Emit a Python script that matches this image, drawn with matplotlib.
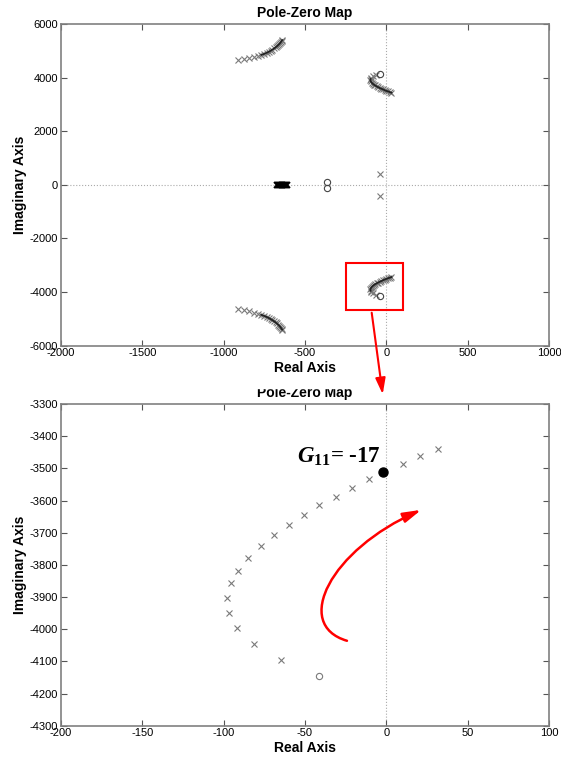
import numpy as np
import matplotlib
matplotlib.use("Agg")
import matplotlib.pyplot as plt
from matplotlib.patches import Rectangle, FancyArrowPatch
from matplotlib.path import Path

plt.rcParams['font.family'] = ['Liberation Sans', 'DejaVu Sans']
plt.rcParams['axes.unicode_minus'] = False
plt.rcParams['mathtext.fontset'] = 'custom'
plt.rcParams['mathtext.it'] = 'Liberation Serif:italic:bold'
plt.rcParams['mathtext.rm'] = 'Liberation Serif:bold'

# lower right branch of poles (the zoomed one); the upper one is its conjugate
branch_re = np.array([-64.5, -81.3, -91.8, -96.9, -97.9, -95.3, -91.0, -84.8, -77.3, -69.2,
                      -60.0, -50.4, -41.2, -30.7, -20.9, -10.4, 10.4, 20.9, 31.5])
branch_im = np.array([-4097, -4047, -3997, -3949, -3902, -3857, -3818, -3779, -3741, -3708,
                      -3675, -3644, -3615, -3588, -3561, -3533, -3486, -3462, -3440])
branch_zero_re = -41.4
branch_zero_im = -4145
g11_re = -1.8
g11_im = -3511

# upper left branch of poles, the lower one is its conjugate
left_re = np.array([-910, -875, -845, -815, -790, -768, -750, -735, -722, -710,
                    -700, -690, -681, -673, -666, -659, -653, -648, -644, -640])
left_im = np.array([4640, 4680, 4720, 4765, 4805, 4850, 4890, 4930, 4970, 5010,
                    5050, 5090, 5130, 5170, 5210, 5250, 5290, 5330, 5370, 5400])

# poles clustered on the real axis
cluster_re = np.array([-670, -664, -658, -652, -646, -640, -634, -628, -622, -616, -612])
cluster_im = np.zeros(len(cluster_re))

# other poles and zeros
pole_pair_re = np.array([-38, -38])
pole_pair_im = np.array([410, -410])
zero_pair_re = np.array([-367, -367])
zero_pair_im = np.array([105, -105])

top_xticks = [-2000, -1500, -1000, -500, 0, 500, 1000]
top_yticks = [-6000, -4000, -2000, 0, 2000, 4000, 6000]
zoom_xticks = [-200, -150, -100, -50, 0, 50, 100]
zoom_yticks = [-4300, -4200, -4100, -4000, -3900, -3800, -3700, -3600, -3500, -3400, -3300]

gray = '#7a7a7a'
frame = '#808080'


def style_axes(ax, xticks, yticks):
    ax.set_xticks(xticks)
    ax.set_yticks(yticks)
    ax.set_xlim(xticks[0], xticks[-1])
    ax.set_ylim(yticks[0], yticks[-1])
    ax.tick_params(direction='in', length=4, width=0.8, colors='#555555', labelcolor='black',
                   labelsize=8, top=True, right=True, pad=2)
    for s in ax.spines.values():
        s.set_color(frame)
        s.set_linewidth(1.2)
    ax.set_xlabel('Real Axis', fontsize=10, fontweight='bold', labelpad=2)
    ax.set_ylabel('Imaginary Axis', fontsize=10, fontweight='bold', labelpad=2)
    ax.set_title('Pole-Zero Map', fontsize=10, fontweight='bold', pad=5)


fig = plt.figure(figsize=(5.61, 7.63), dpi=100)
ax1 = fig.add_axes([0.1087, 0.5469, 0.8699, 0.4216])
ax2 = fig.add_axes([0.1087, 0.0489, 0.8699, 0.4216])

# ---- top: full map
ax1.axhline(0, color='#aaaaaa', ls=':', lw=0.8, zorder=0)
ax1.axvline(0, color='#aaaaaa', ls=':', lw=0.8, zorder=0)

all_re = np.concatenate([branch_re, [g11_re]])
all_im = np.concatenate([branch_im, [g11_im]])
order = np.argsort(all_im)[::-1]
for sign in (1, -1):
    ax1.plot(left_re, sign * left_im, 'x', color=gray, ms=4, mew=0.8)
    ax1.plot(left_re[5:], sign * left_im[5:], '-', color='#222222', lw=1.3)
    ax1.plot(all_re, sign * all_im, 'x', color=gray, ms=4, mew=0.8)
    ax1.plot(all_re[order][:-3], sign * all_im[order][:-3], '-', color='#222222', lw=1.3)
    ax1.plot(branch_zero_re, sign * branch_zero_im, 'o', mfc='none', mec='#444444', ms=4.5, mew=0.8)
ax1.plot(cluster_re, cluster_im, 'x', color='black', ms=4.5, mew=1.4)
ax1.plot(pole_pair_re, pole_pair_im, 'x', color=gray, ms=4, mew=0.8)
ax1.plot(zero_pair_re, zero_pair_im, 'o', mfc='none', mec='#444444', ms=4.5, mew=0.8)

ax1.add_patch(Rectangle((-246, -4685), 350, 1767, fill=False, ec='red', lw=1.5, clip_on=False))
style_axes(ax1, top_xticks, top_yticks)

# ---- bottom: zoom on the lower right branch
ax2.axvline(0, color='#aaaaaa', ls=':', lw=0.8, zorder=0)
ax2.plot(branch_re, branch_im, 'x', color=gray, ms=4, mew=0.8)
ax2.plot(branch_zero_re, branch_zero_im, 'o', mfc='none', mec=gray, ms=4.5, mew=0.8)
ax2.plot(g11_re, g11_im, 'o', color='black', ms=6.5)
ax2.text(-54.9, -3484, r'$G_{\mathit{11}}$= -17', family='Liberation Serif', fontweight='bold',
         fontsize=16.5, ha='left', va='baseline')

curve = Path([(-24.2, -4036), (-57.8, -3986), (-34.4, -3753), (21.5, -3629)],
             [Path.MOVETO, Path.CURVE4, Path.CURVE4, Path.CURVE4])
ax2.add_patch(FancyArrowPatch(path=curve, arrowstyle='-|>,head_length=0.9,head_width=0.25',
                              mutation_scale=12, color='red', lw=1.8))
style_axes(ax2, zoom_xticks, zoom_yticks)

# the lower title is cut at the top, as in the pasted picture
fig.add_artist(Rectangle((0, 1 - 388 / 763), 1, 10 / 763, transform=fig.transFigure,
                         color='white', zorder=5))
fig.add_artist(FancyArrowPatch((371.7 / 561, 1 - 312.7 / 763), (382.7 / 561, 1 - 394.3 / 763),
                               transform=fig.transFigure, arrowstyle='-|>,head_length=0.8,head_width=0.25',
                               mutation_scale=12, color='red', lw=1.5, zorder=6,
                               shrinkA=0, shrinkB=0))

fig.savefig('out.png', dpi=100)
